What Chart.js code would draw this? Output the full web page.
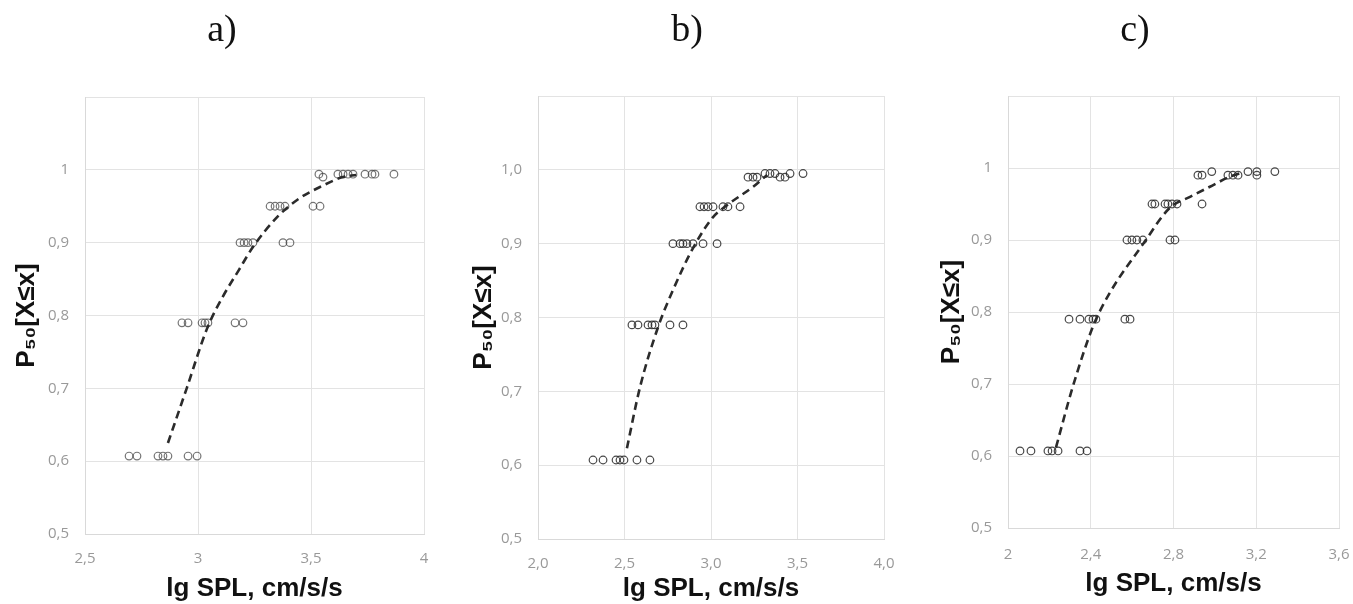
<!DOCTYPE html>
<html>
<head>
<meta charset="utf-8">
<script src="https://cdn.jsdelivr.net/npm/chart.js@4.4.1/dist/chart.umd.min.js"></script>
<style>
  html, body { margin: 0; padding: 0; background: #ffffff; }
  body { width: 1353px; height: 604px; position: relative; overflow: hidden; }
  .panel { position: absolute; top: 0; }
</style>
</head>
<body>
<div class="panel" style="left:0px"><canvas id="ca" width="445" height="604"></canvas></div>
<div class="panel" style="left:450px"><canvas id="cb" width="461" height="604"></canvas></div>
<div class="panel" style="left:900px"><canvas id="cc" width="468" height="604"></canvas></div>
<script>
// ---------- Panel a) ----------
const aX = [2.695, 2.730, 2.823, 2.845, 2.867, 2.956, 2.996,
            2.929, 2.956, 3.018, 3.031, 3.044, 3.164, 3.199,
            3.186, 3.204, 3.221, 3.243, 3.376, 3.407,
            3.319, 3.341, 3.363, 3.385, 3.509, 3.540,
            3.535, 3.553, 3.619, 3.642, 3.664, 3.686, 3.739, 3.770, 3.783, 3.867];
const aY = [0.607, 0.607, 0.607, 0.607, 0.607, 0.607, 0.607,
            0.79, 0.79, 0.79, 0.79, 0.79, 0.79, 0.79,
            0.90, 0.90, 0.90, 0.90, 0.90, 0.90,
            0.95, 0.95, 0.95, 0.95, 0.95, 0.95,
            0.994, 0.99, 0.994, 0.994, 0.994, 0.994, 0.994, 0.994, 0.994, 0.994];
const aFitX = [2.867, 2.95, 3.04, 3.11, 3.18, 3.243, 3.35, 3.44, 3.55, 3.64, 3.70];
const aFitY = [0.625, 0.70, 0.782, 0.826, 0.862, 0.894, 0.935, 0.959, 0.978, 0.99, 0.993];
const aXTicks = ["2,5", "3", "3,5", "4"];
const aYTicks = ["0,5", "0,6", "0,7", "0,8", "0,9", "1"];

// ---------- Panel b) ----------
const bX = [2.318, 2.376, 2.451, 2.474, 2.497, 2.572, 2.647,
            2.543, 2.578, 2.636, 2.659, 2.676, 2.763, 2.838,
            2.780, 2.821, 2.838, 2.861, 2.896, 2.954, 3.035,
            2.936, 2.960, 2.983, 3.012, 3.069, 3.098, 3.168,
            3.214, 3.243, 3.266, 3.399, 3.428,
            3.312, 3.341, 3.370, 3.457, 3.532];
const bY = [0.607, 0.607, 0.607, 0.607, 0.607, 0.607, 0.607,
            0.79, 0.79, 0.79, 0.79, 0.79, 0.79, 0.79,
            0.90, 0.90, 0.90, 0.90, 0.90, 0.90, 0.90,
            0.95, 0.95, 0.95, 0.95, 0.95, 0.95, 0.95,
            0.99, 0.99, 0.99, 0.99, 0.99,
            0.995, 0.995, 0.995, 0.995, 0.995];
const bFitX = [2.514, 2.59, 2.694, 2.78, 2.896, 3.012, 3.092, 3.243, 3.324];
const bFitY = [0.623, 0.706, 0.787, 0.837, 0.894, 0.936, 0.952, 0.977, 0.993];
const bXTicks = ["2,0", "2,5", "3,0", "3,5", "4,0"];
const bYTicks = ["0,5", "0,6", "0,7", "0,8", "0,9", "1,0"];

// ---------- Panel c) ----------
const cX = [2.058, 2.111, 2.193, 2.213, 2.242, 2.348, 2.382,
            2.295, 2.348, 2.391, 2.411, 2.425, 2.565, 2.590,
            2.575, 2.599, 2.623, 2.652, 2.783, 2.807,
            2.696, 2.710, 2.759, 2.773, 2.793, 2.817, 2.938,
            2.918, 2.938, 3.063, 3.087, 3.112, 3.203,
            2.985, 3.160, 3.203, 3.290];
const cY = [0.607, 0.607, 0.607, 0.607, 0.607, 0.607, 0.607,
            0.79, 0.79, 0.79, 0.79, 0.79, 0.79, 0.79,
            0.90, 0.90, 0.90, 0.90, 0.90, 0.90,
            0.95, 0.95, 0.95, 0.95, 0.95, 0.95, 0.95,
            0.99, 0.99, 0.99, 0.99, 0.99, 0.99,
            0.995, 0.995, 0.995, 0.995];
const cFitX = [2.232, 2.314, 2.411, 2.493, 2.652, 2.783, 2.88, 2.976, 3.073, 3.136];
const cFitY = [0.612, 0.697, 0.78, 0.827, 0.894, 0.945, 0.96, 0.974, 0.988, 0.994];
const cXTicks = ["2", "2,4", "2,8", "3,2", "3,6"];
const cYTicks = ["0,5", "0,6", "0,7", "0,8", "0,9", "1"];

const panelTitles = ["a)", "b)", "c)"];
const xAxisTitle = "lg SPL, cm/s/s";
const yAxisTitle = "P\u2085\u2080[X\u2264x]";

function pts(xs, ys) { return xs.map((x, i) => ({ x: x, y: ys[i] })); }

function makeChart(id, cfg) {
  const tickFont = { family: "'Open Sans', 'Liberation Sans', sans-serif", size: 15 };
  const titleFont = { family: "'Liberation Sans', Arial, sans-serif", size: 26, weight: 'bold', lineHeight: 1.2 };
  new Chart(document.getElementById(id), {
    type: 'scatter',
    data: {
      datasets: [
        {
          data: pts(cfg.xs, cfg.ys),
          showLine: false,
          pointStyle: 'circle',
          pointRadius: 3.8,
          pointBorderWidth: 1.2,
          borderColor: cfg.markColor,
          backgroundColor: 'rgba(255,255,255,0)',
          order: 2
        },
        {
          type: 'line',
          data: pts(cfg.fitX, cfg.fitY),
          showLine: true,
          borderColor: '#2b2b2b',
          borderWidth: 2.6,
          borderDash: [8, 5],
          pointRadius: 0,
          fill: false,
          cubicInterpolationMode: 'monotone',
          order: 1
        }
      ]
    },
    options: {
      responsive: false,
      animation: false,
      devicePixelRatio: 1,
      layout: { padding: { left: cfg.padL, right: cfg.padR, top: 0, bottom: 0 } },
      plugins: {
        legend: { display: false },
        tooltip: { enabled: false },
        title: {
          display: true,
          text: cfg.title,
          color: '#111',
          font: { family: "'Liberation Serif', 'Times New Roman', serif", size: 38, weight: 'normal', lineHeight: 1.2 },
          padding: { top: 8, bottom: cfg.titlePadB }
        }
      },
      scales: {
        x: {
          type: 'linear',
          min: cfg.xMin, max: cfg.xMax,
          afterBuildTicks: (s) => { s.ticks = cfg.xTicks.map((_, i) => ({ value: cfg.xMin + i * cfg.xStep })); },
          ticks: {
            color: '#999',
            font: tickFont,
            padding: cfg.xTickPad,
            maxRotation: 0,
            autoSkip: false,
            callback: (v, i) => cfg.xTicks[i]
          },
          grid: { color: '#e3e3e3', lineWidth: 1, drawTicks: false },
          border: { color: '#d9d9d9', width: 1 },
          title: {
            display: true,
            text: xAxisTitle,
            color: '#111',
            font: titleFont,
            padding: { top: 0, bottom: cfg.xTitlePadB }
          },
          afterFit: (s) => { s.height = cfg.xAxisH; }
        },
        y: {
          type: 'linear',
          min: 0.5, max: 1.1,
          afterBuildTicks: (s) => { s.ticks = [0.5, 0.6, 0.7, 0.8, 0.9, 1.0, 1.1].map(v => ({ value: v })); },
          ticks: {
            color: '#999',
            font: tickFont,
            padding: 16,
            autoSkip: false,
            callback: (v, i) => (i < cfg.yTicks.length ? cfg.yTicks[i] : '')
          },
          grid: { color: '#e3e3e3', lineWidth: 1, drawTicks: false },
          border: { color: '#d9d9d9', width: 1 },
          title: {
            display: true,
            text: yAxisTitle,
            color: '#111',
            font: titleFont,
            padding: { top: cfg.yTitlePadT, bottom: 0 }
          },
          afterFit: (s) => { s.width = cfg.yAxisW; }
        }
      }
    }
  });
}

makeChart('ca', {
  xs: aX, ys: aY, fitX: aFitX, fitY: aFitY, markColor: 'rgba(70,70,70,0.75)',
  title: panelTitles[0], xTicks: aXTicks, yTicks: aYTicks, xMin: 2.5, xMax: 4, xStep: 0.5,
  padL: 20, padR: 21, titlePadB: 43.4, yAxisW: 65, xAxisH: 70, xTickPad: 16, xTitlePadB: 0, yTitlePadT: -8.6
});
makeChart('cb', {
  xs: bX, ys: bY, fitX: bFitX, fitY: bFitY, markColor: 'rgba(40,40,40,0.85)',
  title: panelTitles[1], xTicks: bXTicks, yTicks: bYTicks, xMin: 2.0, xMax: 4.0, xStep: 0.5,
  padL: 40, padR: 27, titlePadB: 42.4, yAxisW: 48, xAxisH: 65, xTickPad: 16, xTitlePadB: 0, yTitlePadT: -21.6
});
makeChart('cc', {
  xs: cX, ys: cY, fitX: cFitX, fitY: cFitY, markColor: 'rgba(40,40,40,0.85)',
  title: panelTitles[2], xTicks: cXTicks, yTicks: cYTicks, xMin: 2.0, xMax: 3.6, xStep: 0.4,
  padL: 31, padR: 29, titlePadB: 42.4, yAxisW: 77, xAxisH: 76, xTickPad: 18, xTitlePadB: 5, yTitlePadT: 5.4
});
</script>
</body>
</html>
